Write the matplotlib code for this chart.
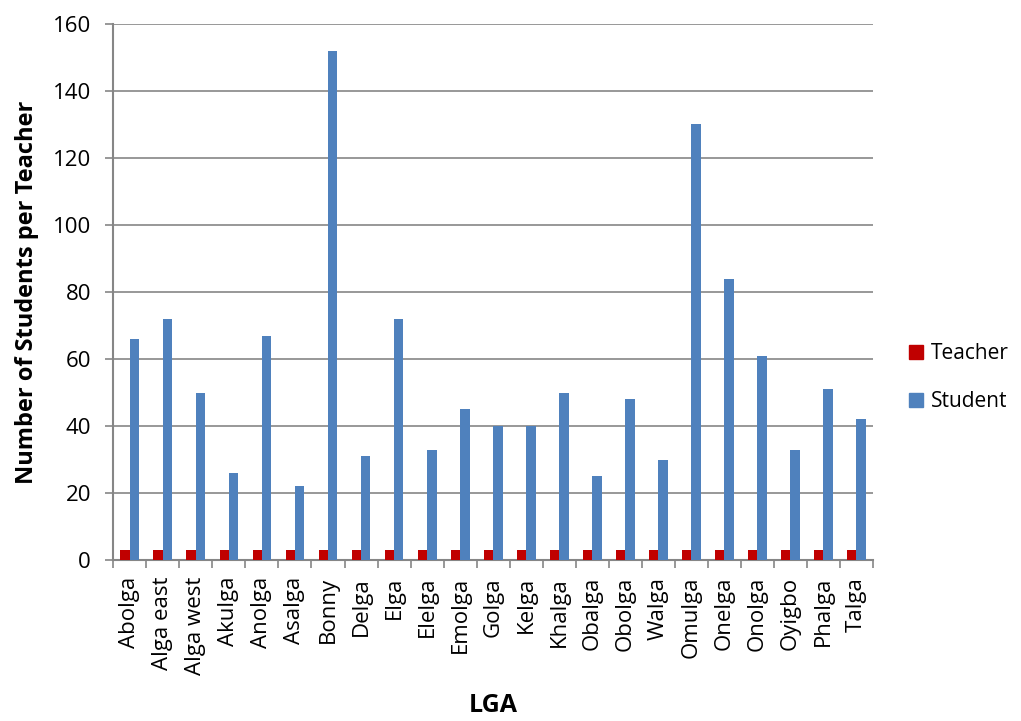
import matplotlib.pyplot as plt
import numpy as np
from matplotlib.patches import Patch

plt.rcParams["font.family"] = ["Open Sans", "DejaVu Sans"]

LGAS = [
    "Abolga", "Alga east", "Alga west", "Akulga", "Anolga", "Asalga", "Bonny",
    "Delga", "Elga", "Elelga", "Emolga", "Golga", "Kelga", "Khalga", "Obalga",
    "Obolga", "Walga", "Omulga", "Onelga", "Onolga", "Oyigbo", "Phalga", "Talga",
]
TEACHER = [3] * len(LGAS)
STUDENT = [66, 72, 50, 26, 67, 22, 152, 31, 72, 33, 45, 40, 40, 50, 25, 48,
           30, 130, 84, 61, 33, 51, 42]

TEACHER_COLOR = "#C00000"
STUDENT_COLOR = "#4F81BD"
AXIS_GREY = "#868686"


def main():
    fig = plt.figure(figsize=(10.21, 7.21), dpi=100)
    ax = fig.add_axes([0.111, 0.223, 0.744, 0.744])

    x = np.arange(len(LGAS))
    width = 0.285
    ax.bar(x - width / 2, TEACHER, width, color=TEACHER_COLOR, zorder=3)
    ax.bar(x + width / 2, STUDENT, width, color=STUDENT_COLOR, zorder=3)

    ax.set_xlim(-0.5, len(LGAS) - 0.5)
    ax.set_ylim(0, 160)
    ax.set_yticks(range(0, 161, 20))
    ax.yaxis.grid(True, color=AXIS_GREY, linewidth=1.2, zorder=0)

    ax.set_xticks(x)
    ax.set_xticklabels(LGAS, rotation=90, fontsize=16)
    ax.set_xticks(np.arange(-0.5, len(LGAS)), minor=True)
    ax.tick_params(axis="x", which="major", length=0, pad=12)
    ax.tick_params(axis="x", which="minor", length=6, width=1.2, color=AXIS_GREY, direction="out")
    ax.tick_params(axis="y", length=6, width=1.2, color=AXIS_GREY, labelsize=16, pad=10)

    for side in ["top", "right"]:
        ax.spines[side].set_visible(False)
    for side in ["left", "bottom"]:
        ax.spines[side].set_color(AXIS_GREY)
        ax.spines[side].set_linewidth(1.5)

    ax.set_ylabel("Number of Students per Teacher", fontsize=17, fontweight="bold", labelpad=10)
    ax.set_xlabel("LGA", fontsize=18, fontweight="bold")
    ax.xaxis.set_label_coords(0.5, -0.248)

    handles = [Patch(color=TEACHER_COLOR), Patch(color=STUDENT_COLOR)]
    fig.legend(handles, ["Teacher", "Student"], loc="center left",
               bbox_to_anchor=(0.872, 0.476), frameon=False, fontsize=15,
               handlelength=0.65, handleheight=0.65, handletextpad=0.4, labelspacing=1.3)

    fig.savefig("out.png", dpi=100)
    plt.close(fig)


if __name__ == "__main__":
    main()
